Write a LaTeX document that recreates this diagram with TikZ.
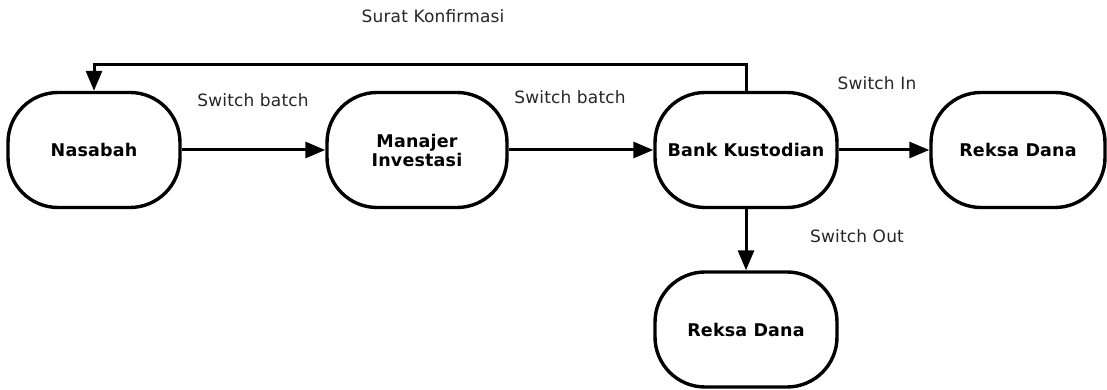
\documentclass[tikz,border=0pt]{standalone}
\usepackage{fontspec}
\setmainfont{DejaVu Sans}[LetterSpace=1]
\usepackage{tikz}
\usetikzlibrary{arrows.meta}

\tikzset{
	flowbox/.style={draw, line width=3.4pt, rounded corners=50pt, minimum width=#1, minimum height=115pt, align=center, font=\fontsize{17.5}{19}\selectfont\bfseries},
	flowbox/.default=176pt,
	flowline/.style={line width=3pt, -{Triangle[length=20pt,width=16pt]}},
	flowlabel/.style={font=\fontsize{17}{19}\selectfont, text=black!85}
}

\begin{document}
\begin{tikzpicture}[x=1pt, y=1pt]
			%%%%% START %%%%%
			\useasboundingbox (0, 0) rectangle (1107, 390);
			
			\node[flowbox=172pt] (nasabah) at (94, 240) {Nasabah};
			\node[flowbox=180pt] (manajer) at (417, 240) {Manajer\\Investasi};
			\node[flowbox=182pt] (bank) at (746, 240) {Bank Kustodian};
			\node[flowbox=174pt] (reksaIn) at (1018, 240) {Reksa Dana};
			\node[flowbox=182pt] (reksaOut) at (746, 60.5) {Reksa Dana};
			
			\coordinate (konfirmasi) at (746, 325);
			
			\draw[flowline] (nasabah) -- (manajer);
			\draw[flowline] (manajer) -- (bank);
			\draw[flowline] (bank) -- (reksaIn);
			\draw[flowline] (bank) -- (reksaOut);
			\draw[flowline] (bank.north) -- (konfirmasi) -| (nasabah.north);
			
			\node[flowlabel] (lblKonfirmasi) at (433, 374) {Surat Konfirmasi};
			\node[flowlabel] (lblBatchA) at (253, 290) {Switch batch};
			\node[flowlabel] (lblBatchB) at (570, 293) {Switch batch};
			\node[flowlabel] (lblIn) at (877, 307) {Switch In};
			\node[flowlabel] (lblOut) at (857, 154) {Switch Out};
			
			%%%%% END %%%%%
		\end{tikzpicture}
\end{document}
